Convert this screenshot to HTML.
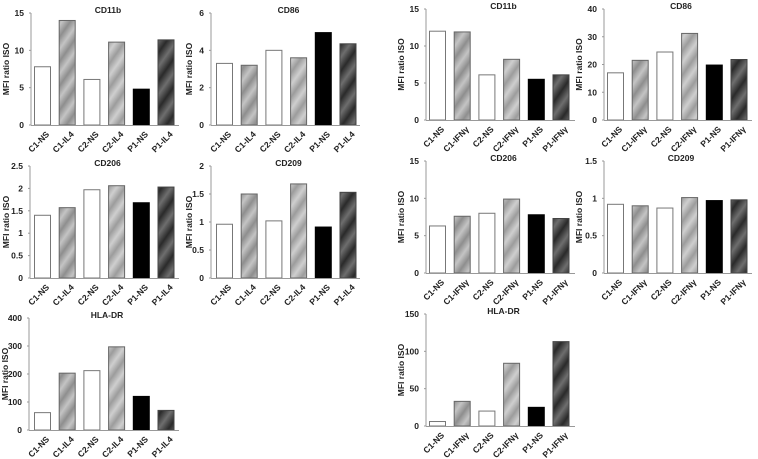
<!DOCTYPE html>
<html><head><meta charset="utf-8">
<style>
html,body{margin:0;padding:0;background:#fff;}
svg{display:block;font-family:"Liberation Sans",Arial,sans-serif;}
text{font-weight:bold;fill:#222;}
</style></head>
<body>
<svg id="fig" width="758" height="459" viewBox="0 0 758 459">
<defs>
  <linearGradient id="gC1" x1="0" y1="0" x2="1" y2="0">
    <stop offset="0" stop-color="#8e8e8e"/><stop offset="0.5" stop-color="#c4c4c4"/><stop offset="1" stop-color="#8e8e8e"/></linearGradient>
  <pattern id="pC1" width="14" height="14" patternUnits="userSpaceOnUse" patternTransform="rotate(35)">
    <rect width="14" height="14" fill="url(#gC1)"/></pattern>
  <linearGradient id="gC2" x1="0" y1="0" x2="1" y2="0">
    <stop offset="0" stop-color="#9c9c9c"/><stop offset="0.5" stop-color="#cfcfcf"/><stop offset="1" stop-color="#9c9c9c"/></linearGradient>
  <pattern id="pC2" width="14" height="14" patternUnits="userSpaceOnUse" patternTransform="rotate(35)">
    <rect width="14" height="14" fill="url(#gC2)"/></pattern>
  <linearGradient id="gP1" x1="0" y1="0" x2="1" y2="0">
    <stop offset="0" stop-color="#2a2a2a"/><stop offset="0.5" stop-color="#6e6e6e"/><stop offset="1" stop-color="#2a2a2a"/></linearGradient>
  <pattern id="pP1" width="16" height="16" patternUnits="userSpaceOnUse" patternTransform="rotate(35)">
    <rect width="16" height="16" fill="url(#gP1)"/></pattern>
</defs>
</svg>
<script>
// categories
const catsIL4 = ['C1-NS','C1-IL4','C2-NS','C2-IL4','P1-NS','P1-IL4'];
const catsIFN = ['C1-NS','C1-IFNγ','C2-NS','C2-IFNγ','P1-NS','P1-IFNγ'];
// titles
const titles = ['CD11b','CD86','CD206','CD209','HLA-DR','CD11b','CD86','CD206','CD209','HLA-DR'];
// series values
const valsL_CD11b = [7.8, 14.0, 6.1, 11.1, 4.8, 11.4];
const valsL_CD86 = [3.3, 3.2, 4.0, 3.6, 4.95, 4.35];
const valsL_CD206 = [1.4, 1.57, 1.97, 2.06, 1.68, 2.03];
const valsL_CD209 = [0.96, 1.5, 1.02, 1.68, 0.91, 1.53];
const valsL_HLA = [62, 203, 212, 297, 120, 70];
const valsR_CD11b = [12.0, 11.9, 6.1, 8.2, 5.5, 6.1];
const valsR_CD86 = [17, 21.5, 24.5, 31.2, 19.8, 21.8];
const valsR_CD206 = [6.3, 7.6, 8.0, 9.9, 7.8, 7.3];
const valsR_CD209 = [0.92, 0.9, 0.87, 1.01, 0.97, 0.98];
const valsR_HLA = [6, 33, 20, 84, 25, 113];
// tick labels
const ticks15 = ['0','5','10','15'];
const ticks6 = ['0','2','4','6'];
const ticks25 = ['0','0.5','1','1.5','2','2.5'];
const ticks2 = ['0','0.5','1','1.5','2'];
const ticks400 = ['0','100','200','300','400'];
const ticks40 = ['0','10','20','30','40'];
const ticks15b = ['0','0.5','1','1.5'];
const ticks150 = ['0','50','100','150'];

const NS='http://www.w3.org/2000/svg';
const svg=document.getElementById('fig');
const fills=['#fff','url(#pC1)','#fff','url(#pC2)','#000','url(#pP1)'];
const strokes=['#777','#666','#777','#666','#000','#444'];
function mk(tag,attrs,parent){const e=document.createElementNS(NS,tag);for(const k in attrs)e.setAttribute(k,attrs[k]);(parent||svg).appendChild(e);return e;}

// layout: [axisX, firstBarX, topY, zeroY, ylabelX, xAxisEnd]
const layouts=[
 [31,34,13,125,6,179],[211,216,13,125,189,360],
 [30,34,166,278,6,179],[211,216,166,278,189,360],
 [29,34,318,430,5,179],
 [426,429,9,120,401,575],[604,607,9,120,579,752],
 [426,429,161,273,401,575],[604,607,161,273,579,752],
 [426,429,314,426,401,575]
];
const series=[valsL_CD11b,valsL_CD86,valsL_CD206,valsL_CD209,valsL_HLA,valsR_CD11b,valsR_CD86,valsR_CD206,valsR_CD209,valsR_HLA];
const tickSets=[ticks15,ticks6,ticks25,ticks2,ticks400,ticks15,ticks40,ticks15,ticks15b,ticks150];
const catSets=[catsIL4,catsIL4,catsIL4,catsIL4,catsIL4,catsIFN,catsIFN,catsIFN,catsIFN,catsIFN];
const names=['left-cd11b','left-cd86','left-cd206','left-cd209','left-hla-dr','right-cd11b','right-cd86','right-cd206','right-cd209','right-hla-dr'];

series.forEach((vals,i)=>{
  const [ax,bx,top,zero,ylx,xend]=layouts[i];
  const ticks=tickSets[i], cats=catSets[i];
  const maxV=parseFloat(ticks[ticks.length-1]);
  const y=v=>zero-(v/maxV)*(zero-top);
  const xb=k=>bx+k*24.7;
  const g=mk('g',{});
  
  
  const t=mk('text',{x:(ax+xend)/2+3,y:top,'text-anchor':'middle','font-size':'8.5'},g);
  t.textContent=titles[i];
  
  
  const yl=mk('text',{x:ylx,y:(top+zero)/2,'text-anchor':'middle','font-size':'8.5',transform:`rotate(-90 ${ylx} ${(top+zero)/2})`,dy:'3'},g);
  yl.textContent='MFI ratio ISO';
  
  
  ticks.forEach(tk=>{
    const v=parseFloat(tk), yy=y(v);
    const tl=mk('text',{x:ax-7,y:yy+3,'text-anchor':'end','font-size':'8.5'},g);
    tl.textContent=tk;
    
    
    mk('line',{x1:ax-2,x2:ax,y1:yy,y2:yy,stroke:'#999','stroke-width':1},g);
  });
  vals.forEach((v,k)=>{
    const r=mk('rect',{x:xb(k)+0.5,y:y(v),width:16,height:zero-y(v),fill:fills[k],stroke:strokes[k],'stroke-width':1},g);
    
    
    const cx=xb(k)+13, cy=zero+7;
    const cl=mk('text',{x:cx,y:cy,'text-anchor':'end','font-size':'8.5',transform:`rotate(-45 ${cx} ${cy})`,dy:'4'},g);
    cl.textContent=cats[k];
    
    
  });
  mk('line',{x1:ax,x2:ax,y1:top,y2:zero,stroke:'#999','stroke-width':1},g);
  mk('line',{x1:ax,x2:xend,y1:zero+0.5,y2:zero+0.5,stroke:'#999','stroke-width':1},g);
});
</script>
</body></html>
